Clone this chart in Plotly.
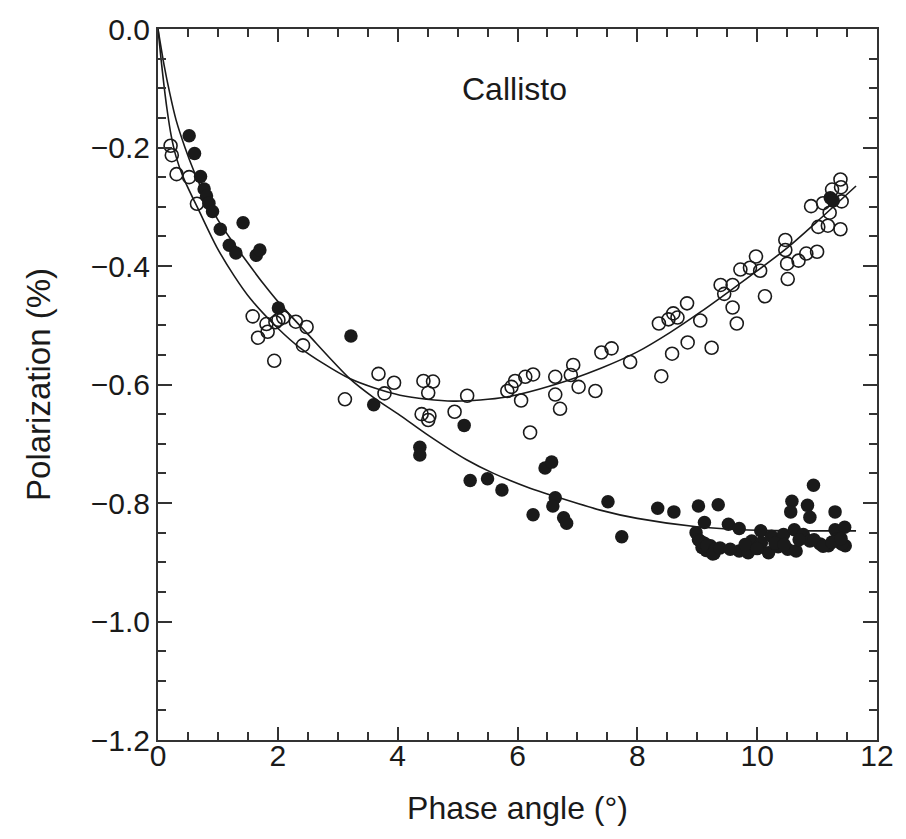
import plotly.graph_objects as go

# ---- data ----
open_x = [0.21, 0.23, 0.31, 0.52, 0.65,
          1.58, 1.81, 1.83, 1.67, 1.94, 2.01, 2.09, 2.30, 2.48, 2.42, 1.96, 3.12, 3.68, 3.94, 3.78,
          4.43, 4.59, 4.51, 4.40, 4.53, 4.51, 4.95, 5.16, 5.83, 5.96, 5.90, 6.13, 6.26, 6.06, 6.21,
          6.63, 6.63, 6.71, 6.93, 6.89, 7.02, 7.30, 7.40, 7.57, 7.88, 8.58, 8.84, 9.24, 8.40,
          8.36, 8.52, 8.60, 8.67, 8.83, 9.05,
          9.39, 9.59, 9.45, 9.59, 9.66, 9.72, 9.88, 9.98, 10.05, 10.13, 10.47, 10.47, 10.50, 10.51,
          10.69, 10.82, 11.00, 10.90, 11.02, 11.10, 11.18, 11.21, 11.25, 11.39, 11.40, 11.41, 11.39]
open_y = [-0.197, -0.213, -0.245, -0.250, -0.295,
          -0.485, -0.498, -0.511, -0.521, -0.560, -0.491, -0.487, -0.494, -0.503, -0.534, -0.495, -0.625, -0.582, -0.597, -0.615,
          -0.594, -0.595, -0.614, -0.650, -0.653, -0.660, -0.646, -0.619, -0.611, -0.594, -0.604, -0.587, -0.583, -0.627, -0.681,
          -0.587, -0.617, -0.641, -0.567, -0.584, -0.604, -0.611, -0.546, -0.539, -0.562, -0.548, -0.529, -0.538, -0.586,
          -0.497, -0.490, -0.480, -0.487, -0.463, -0.492,
          -0.432, -0.432, -0.447, -0.470, -0.497, -0.406, -0.403, -0.384, -0.408, -0.451, -0.356, -0.373, -0.396, -0.422,
          -0.391, -0.379, -0.376, -0.299, -0.334, -0.294, -0.332, -0.310, -0.271, -0.254, -0.267, -0.291, -0.338]

filled_x = [0.52, 0.61, 0.71, 0.77, 0.81, 0.85, 0.91, 1.04, 1.42, 1.19, 1.30, 1.64, 1.70,
            2.01, 3.22, 3.60,
            4.37, 4.37, 5.11, 5.21, 5.50, 5.74, 6.26, 6.46, 6.57, 6.63, 6.59, 6.77, 6.82,
            7.51, 7.74, 8.34, 8.61, 9.02, 9.35, 9.12, 8.98, 9.52,
            9.02, 9.08, 9.15, 9.22, 9.28, 9.12,
            9.05, 9.16, 9.30, 9.26, 9.38, 9.70, 9.70, 9.85, 9.91, 10.06, 10.07, 10.19, 10.24, 10.35,
            10.44, 10.51, 10.58, 10.56, 10.62, 10.65, 10.94, 10.84, 10.88, 10.77, 10.88, 11.05, 11.19,
            11.30, 11.30, 11.33, 11.46, 11.47, 11.41,
            9.55, 9.80, 10.00, 10.30, 10.45, 10.70, 10.95, 11.10, 11.25, 11.40,
            11.22, 11.27]
filled_y = [-0.180, -0.210, -0.249, -0.270, -0.282, -0.294, -0.308, -0.338, -0.327, -0.365, -0.378, -0.382, -0.373,
            -0.471, -0.518, -0.634,
            -0.706, -0.719, -0.669, -0.762, -0.759, -0.778, -0.820, -0.741, -0.731, -0.791, -0.805, -0.825, -0.834,
            -0.798, -0.857, -0.809, -0.815, -0.805, -0.803, -0.833, -0.850, -0.836,
            -0.862, -0.875, -0.880, -0.872, -0.885, -0.868,
            -0.864, -0.872, -0.878, -0.886, -0.876, -0.843, -0.881, -0.884, -0.864, -0.847, -0.867, -0.884, -0.856, -0.874,
            -0.853, -0.878, -0.797, -0.815, -0.845, -0.881, -0.770, -0.804, -0.824, -0.853, -0.864, -0.869, -0.872,
            -0.815, -0.845, -0.861, -0.841, -0.872, -0.869,
            -0.878, -0.870, -0.877, -0.868, -0.870, -0.862, -0.862, -0.873, -0.866, -0.860,
            -0.285, -0.290]

# fitted curves
fit_open_x = [0, 0.05, 0.10, 0.15, 0.22, 0.30, 0.42, 0.70, 0.98, 1.26, 1.54, 2.00, 2.37, 3.20,
              4.04, 4.93, 5.82, 6.60, 7.38, 8.00, 8.55, 9.05, 9.88, 10.47, 11.00, 11.65]
fit_open_y = [0, -0.050, -0.095, -0.135, -0.180, -0.215, -0.250, -0.310, -0.368, -0.415, -0.455, -0.505, -0.538, -0.590,
              -0.618, -0.628, -0.621, -0.601, -0.573, -0.545, -0.512, -0.478, -0.417, -0.372, -0.325, -0.265]
fit_filled_x = [0, 0.10, 0.20, 0.30, 0.45, 0.60, 0.80, 1.00, 1.25, 1.50, 1.76, 2.01, 2.50, 3.20, 3.60,
                4.04, 4.50, 5.15, 5.60, 6.21, 6.60, 7.38, 8.00, 8.99, 10.00, 11.65]
fit_filled_y = [0, -0.060, -0.110, -0.153, -0.200, -0.240, -0.285, -0.322, -0.360, -0.395, -0.430, -0.461, -0.515, -0.590, -0.622,
                -0.652, -0.685, -0.727, -0.750, -0.775, -0.788, -0.812, -0.826, -0.840, -0.846, -0.847]

FONT = "Liberation Sans, Arial, Helvetica, sans-serif"
INK = "#1a1a1a"
AX = "#333333"

fig = go.Figure()
fig.add_trace(go.Scatter(x=fit_open_x, y=fit_open_y, mode="lines",
                         line=dict(color=INK, width=1.6, shape="spline", smoothing=0.8), hoverinfo="skip"))
fig.add_trace(go.Scatter(x=fit_filled_x, y=fit_filled_y, mode="lines",
                         line=dict(color=INK, width=1.6, shape="spline", smoothing=0.8), hoverinfo="skip"))
fig.add_trace(go.Scatter(x=open_x, y=open_y, mode="markers",
                         marker=dict(symbol="circle-open", size=13, color=INK, line=dict(width=1.6))))
fig.add_trace(go.Scatter(x=filled_x, y=filled_y, mode="markers",
                         marker=dict(symbol="circle", size=13.5, color=INK, line=dict(width=0))))

fig.add_annotation(x=5.95, y=-0.101, text="Callisto", showarrow=False,
                   font=dict(family=FONT, size=32, color=INK))

fig.update_layout(
    width=906, height=839,
    margin=dict(l=158, r=29, t=25, b=99),
    plot_bgcolor="white", paper_bgcolor="white",
    showlegend=False,
    font=dict(family=FONT, color=INK),
)
fig.update_xaxes(range=[0, 12], dtick=2, tick0=0, showgrid=False, zeroline=False,
                 showline=True, linecolor=AX, linewidth=2, mirror="allticks",
                 ticks="inside", ticklen=13, tickwidth=1.5, tickcolor=AX,
                 minor=dict(dtick=0.5, ticks="inside", ticklen=8, tickwidth=1.5, tickcolor=AX, showgrid=False),
                 tickfont=dict(family=FONT, size=30, color=INK), ticklabelstandoff=-12,
                 title=dict(text="Phase angle (°)", font=dict(family=FONT, size=32, color=INK), standoff=26))
fig.update_yaxes(range=[-1.2, 0], dtick=0.2, tick0=0, tickformat=".1f", showgrid=False, zeroline=False,
                 showline=True, linecolor=AX, linewidth=2, mirror="allticks",
                 ticks="inside", ticklen=14, tickwidth=1.5, tickcolor=AX,
                 minor=dict(dtick=0.05, ticks="inside", ticklen=8, tickwidth=1.5, tickcolor=AX, showgrid=False),
                 tickfont=dict(family=FONT, size=30, color=INK),
                 title=dict(text="Polarization (%)", font=dict(family=FONT, size=33, color=INK), standoff=30))

fig.write_html("out.html")
